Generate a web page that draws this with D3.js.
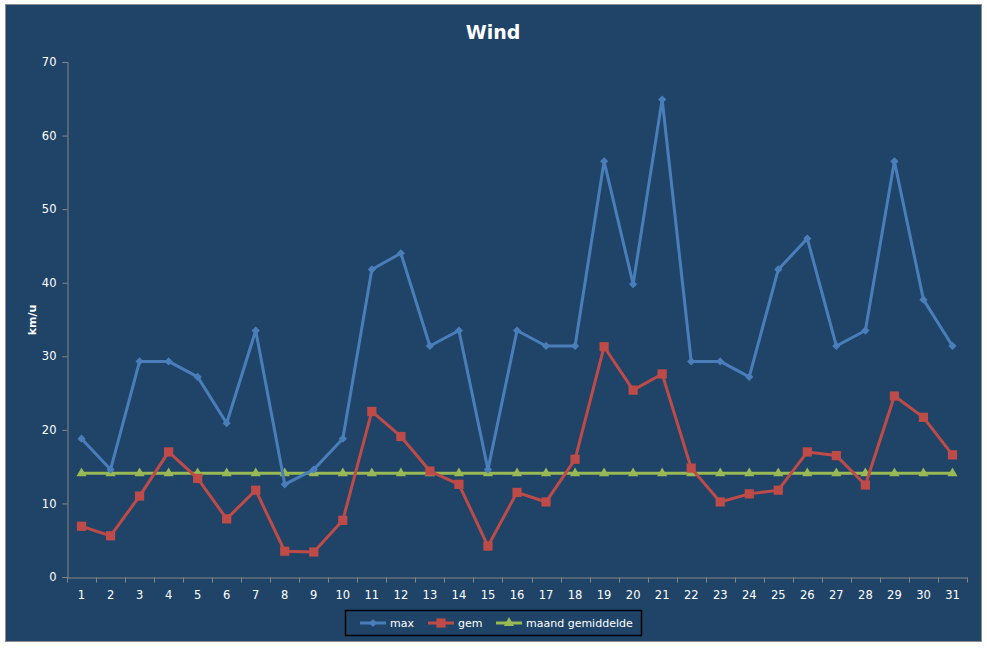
<!DOCTYPE html>
<html>
<head>
<meta charset="utf-8">
<script src="https://cdn.jsdelivr.net/npm/d3@7"></script>
<style>
  body { margin: 0; background: #ffffff; }
  text { font-family: "DejaVu Sans", Verdana, sans-serif; }
</style>
</head>
<body>
<div id="chart"></div>
<script>
// data
const days = d3.range(1, 32).map(String);
const maxWind = [18.8, 14.6, 29.3, 29.3, 27.2, 20.9, 33.5, 12.6, 14.6, 18.8,
                 41.8, 44.0, 31.4, 33.5, 14.6, 33.5, 31.4, 31.4, 56.5, 39.8,
                 64.9, 29.3, 29.3, 27.2, 41.8, 46.0, 31.4, 33.5, 56.5, 37.7, 31.4];
const gemWind = [6.9, 5.6, 11.0, 17.0, 13.4, 7.9, 11.8, 3.5, 3.4, 7.7,
                 22.5, 19.1, 14.4, 12.6, 4.2, 11.5, 10.2, 16.0, 31.3, 25.4,
                 27.6, 14.8, 10.2, 11.3, 11.8, 17.0, 16.5, 12.5, 24.6, 21.7, 16.6];
const maandGem = days.map(() => 14.1);
const yTicks = [0, 10, 20, 30, 40, 50, 60, 70];

const series = [
    {name: "max", values: maxWind, color: "#4a7ebb", marker: "diamond"},
    {name: "gem", values: gemWind, color: "#be4b48", marker: "square"},
    {name: "maand gemiddelde", values: maandGem, color: "#98b954", marker: "triangle"}
];

function drawChart() {
    const W = 987, H = 648;
    const plot = {left: 67, right: 967, top: 62, bottom: 577};

    const svg = d3.select("#chart")
        .append("svg")
        .attr("width", W)
        .attr("height", H);

    // chart background with thin grey border
    svg.append("rect")
        .attr("x", 5.5).attr("y", 4.5)
        .attr("width", 976).attr("height", 637)
        .attr("fill", "#1f4468")
        .attr("stroke", "#8c8c8c")
        .attr("stroke-width", 1);

    // title
    svg.append("text")
        .attr("x", 493).attr("y", 39)
        .attr("text-anchor", "middle")
        .attr("fill", "#ffffff")
        .attr("font-size", 19)
        .attr("font-weight", "bold")
        .text("Wind");

    const xScale = d3.scaleBand()
        .domain(days)
        .range([plot.left, plot.right]);

    const yScale = d3.scaleLinear()
        .domain([0, 70])
        .range([plot.bottom, plot.top]);

    // y axis
    const yAxis = svg.append("g")
        .attr("class", "axis")
        .attr("transform", `translate(${plot.left + 0.5}, 0)`)
        .call(d3.axisLeft(yScale).tickValues(yTicks).tickSize(5).tickPadding(6));
    yAxis.select(".domain").attr("stroke", "#868686");
    yAxis.selectAll(".tick line").attr("stroke", "#868686");
    yAxis.selectAll(".tick text")
        .attr("fill", "#ffffff")
        .attr("font-size", 11.5)
        .style("font-family", "DejaVu Sans, Verdana, sans-serif");

    // x axis: ticks between categories
    const xAxis = svg.append("g")
        .attr("class", "axis")
        .attr("transform", `translate(0, ${plot.bottom + 0.5})`)
        .call(d3.axisBottom(xScale).tickSize(0).tickSizeOuter(0).tickPadding(13));
    xAxis.select(".domain").attr("stroke", "#868686");
    xAxis.selectAll(".tick text")
        .attr("fill", "#ffffff")
        .attr("font-size", 11.5)
        .style("font-family", "DejaVu Sans, Verdana, sans-serif");
    xAxis.selectAll(".bandTick")
        .data(days)
        .enter()
        .append("line")
        .attr("class", "bandTick")
        .attr("x1", d => Math.round(xScale(d)) + 0.5)
        .attr("x2", d => Math.round(xScale(d)) + 0.5)
        .attr("y1", 0).attr("y2", 5)
        .attr("stroke", "#868686");
    xAxis.append("line")
        .attr("x1", plot.right + 0.5).attr("x2", plot.right + 0.5)
        .attr("y1", 0).attr("y2", 5)
        .attr("stroke", "#868686");

    // y axis title
    svg.append("text")
        .attr("transform", "translate(36, 320) rotate(-90)")
        .attr("text-anchor", "middle")
        .attr("fill", "#ffffff")
        .attr("font-size", 11)
        .attr("font-weight", "bold")
        .text("km/u");

    const cx = i => xScale(days[i]) + xScale.bandwidth() / 2;

    const line = d3.line()
        .x((d, i) => cx(i))
        .y(d => yScale(d));

    // diamond = square turned 45 degrees, like the spreadsheet marker
    const symbolType = {
        diamond: d3.symbolSquare,
        square: d3.symbolSquare,
        triangle: d3.symbolTriangle
    };
    const symbolSize = {diamond: 34, square: 85, triangle: 45};
    const symbolRotate = {diamond: 45, square: 0, triangle: 0};

    // draw in reverse so max sits on top like the reference
    series.slice().reverse().forEach(function(s) {
        svg.append("path")
            .datum(s.values)
            .attr("fill", "none")
            .attr("stroke", s.color)
            .attr("stroke-width", 3)
            .attr("stroke-linejoin", "round")
            .attr("d", line);

        svg.selectAll(".m-" + s.marker)
            .data(s.values)
            .enter()
            .append("path")
            .attr("class", "m-" + s.marker)
            .attr("transform", (d, i) => `translate(${cx(i)}, ${yScale(d)}) rotate(${symbolRotate[s.marker]})`)
            .attr("d", d3.symbol().type(symbolType[s.marker]).size(symbolSize[s.marker]))
            .attr("fill", s.color);
    });

    // legend
    const legend = svg.append("g");
    legend.append("rect")
        .attr("x", 345.5).attr("y", 610.5)
        .attr("width", 296).attr("height", 25)
        .attr("fill", "none")
        .attr("stroke", "#000000")
        .attr("stroke-width", 1.5);

    const legendX = [360, 428, 496];
    series.forEach(function(s, i) {
        const g = legend.append("g")
            .attr("transform", `translate(${legendX[i]}, 623)`);
        g.append("line")
            .attr("x1", 0).attr("x2", 26)
            .attr("stroke", s.color)
            .attr("stroke-width", 3);
        g.append("path")
            .attr("transform", `translate(13, 0) rotate(${symbolRotate[s.marker]})`)
            .attr("d", d3.symbol().type(symbolType[s.marker]).size(symbolSize[s.marker]))
            .attr("fill", s.color);
        g.append("text")
            .attr("x", 30).attr("y", 4)
            .attr("fill", "#ffffff")
            .attr("font-size", 11)
            .text(s.name);
    });
}

drawChart();
</script>
</body>
</html>
